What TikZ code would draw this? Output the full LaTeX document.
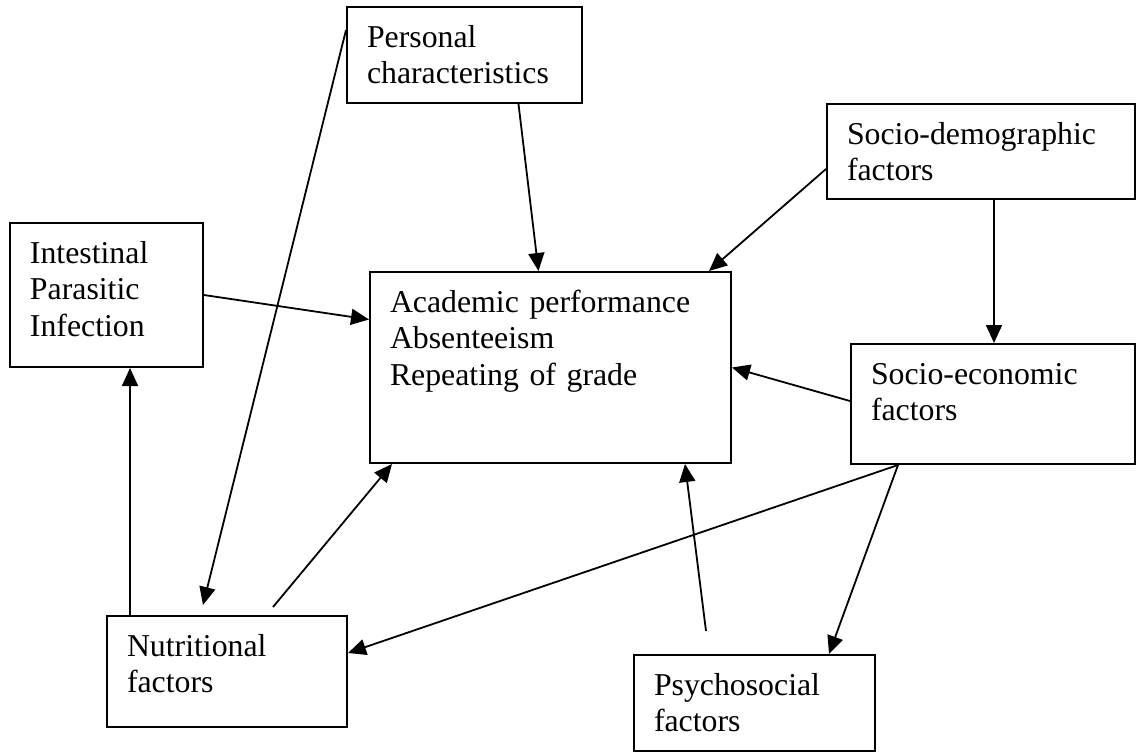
\documentclass[tikz,border=0pt]{standalone}
\usepackage{fontspec}
\setmainfont{Liberation Serif}
\usepackage{tikz}
\usetikzlibrary{arrows.meta}

\begin{document}
\begin{tikzpicture}[x=0.5pt, y=-0.5pt,
	factor/.style={draw, line width=1pt, rectangle, anchor=north west, align=left, inner xsep=10pt, inner ysep=10pt, text height=10pt, font=\fontsize{15.9pt}{18.3pt}\selectfont},
	>={Triangle[length=9pt, width=8pt]}, every path/.style={line width=0.9pt}]
	\useasboundingbox (0,0) rectangle (1136,751);
	\node[factor, text width=97.5pt, text depth=18pt] (pers) at (346,6) {Personal\\characteristics};
	\node[factor, text width=134pt, text depth=17.5pt] (sdem) at (826,103) {Socio-demographic\\factors};
	\node[factor, text width=76.5pt, text depth=42pt] (intes) at (9,222) {Intestinal\\Parasitic\\Infection};
	\node[factor, text width=160.5pt, text depth=65.5pt] (acad) at (369,271) {Academic performance\\Absenteeism\\Repeating of grade};
	\node[factor, text width=122pt, text depth=30pt] (secon) at (850,343) {Socio-economic\\factors};
	\node[factor, text width=100pt, text depth=25.5pt] (nutr) at (106,615) {Nutritional\\factors};
	\node[factor, text width=100.5pt, text depth=18pt] (psych) at (633,654) {Psychosocial\\factors};
	\draw[->] ([xshift=27pt]pers.south) -- ([xshift=-6pt]acad.north);
	\draw[->] ([yshift=-8.75pt]sdem.west) -- ([xshift=-11.5pt]acad.north east);
	\draw[->] ([xshift=6.5pt]sdem.south) -- ([xshift=0.5pt]secon.north);
	\draw[->] (intes.east) -- ([yshift=24pt]acad.west);
	\draw[->] ([yshift=1.5pt]secon.west) -- (acad.east);
	\draw[->] ([xshift=12pt]nutr.north west) -- ([xshift=60.5pt]intes.south west);
	\draw[->] ([yshift=-12pt]pers.north west) -- ([xshift=48.5pt, yshift=5pt]nutr.north west);
	\draw[->] ([xshift=83.5pt, yshift=4pt]nutr.north west) -- ([xshift=11.5pt]acad.south west);
	\draw[->] ([xshift=36.5pt, yshift=11.5pt]psych.north west) -- ([xshift=-23.5pt]acad.south east);
	\draw[->] ([xshift=24pt]secon.south west) -- ([yshift=9.25pt]nutr.east);
	\draw[->] ([xshift=24pt]secon.south west) -- ([xshift=37.25pt]psych.north);
\end{tikzpicture}
\end{document}
